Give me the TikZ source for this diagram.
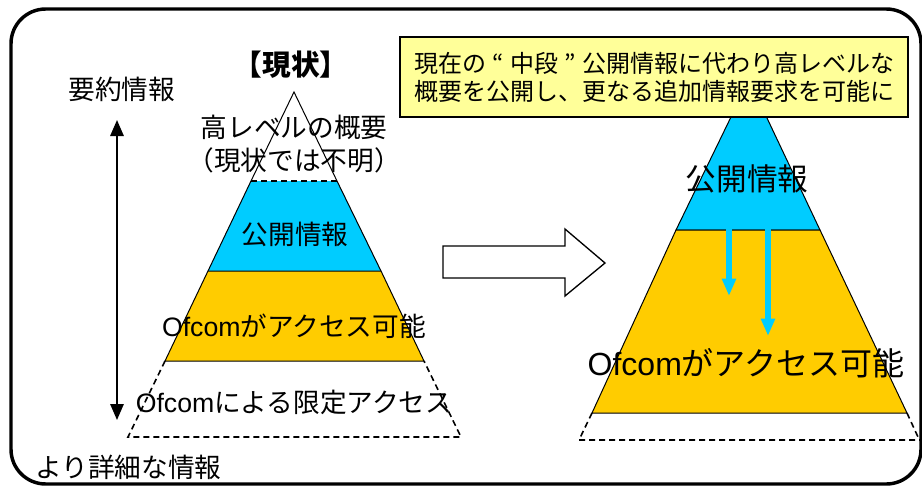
\documentclass[tikz,border=0pt]{standalone}
\usepackage{fontspec}
\setmainfont{Noto Sans CJK JP}
\newfontfamily\arialf{Liberation Sans}
\usetikzlibrary{arrows.meta}
\definecolor{cyanband}{HTML}{00CCFF}
\definecolor{goldband}{HTML}{FFCC00}
\definecolor{notefill}{HTML}{FFFF99}
\newcommand{\fwq}[1]{\makebox[1em]{#1}}
\newcommand{\ofc}{{\arialf Ofcom}}
\tikzset{
  pyr/.style={draw=black, line width=0.75pt, line join=miter},
  dsh/.style={draw=black, line width=1.2pt, dash pattern=on 4.5pt off 3pt},
  lbl/.style={inner sep=0pt, font=\fontsize{20pt}{23pt}\selectfont},
  big/.style={inner sep=0pt, font=\fontsize{24pt}{26pt}\selectfont},
  bluearrow/.style={draw=cyanband, line width=3.8pt, -{Triangle[length=13pt, width=10pt]}},
}
\begin{document}
\begin{tikzpicture}[x=0.75pt, y=-0.75pt]
\useasboundingbox (0,0) rectangle (922,486);
% outer frame
\draw[line width=2.6pt, rounded corners=26pt] (11,9) rectangle (921,484);

% ---------- left pyramid ----------
\coordinate (LA) at (294,92);
\coordinate (L1l) at (251,181); \coordinate (L1r) at (337,181);
\coordinate (L2l) at (208,271); \coordinate (L2r) at (381,271);
\coordinate (L3l) at (165,361); \coordinate (L3r) at (424,361);
\coordinate (L4l) at (128,437); \coordinate (L4r) at (461,437);
\draw[pyr] (L1l) -- (LA) -- (L1r);
\fill[cyanband] (L1l) -- (L1r) -- (L2r) -- (L2l) -- cycle;
\draw[pyr] (L1l) -- (L2l) (L1r) -- (L2r);
\draw[dsh, line width=0.9pt] (L1l) -- (L1r);
\filldraw[pyr, fill=goldband] (L2l) -- (L2r) -- (L3r) -- (L3l) -- cycle;
\draw[dsh] (L3l) -- (L4l) -- (L4r) -- (L3r);

\node[inner sep=0pt, font=\fontsize{21.5pt}{24pt}\selectfont\bfseries] (cur) at (291,65) {【現状】};
\node[lbl] (summ) at (122,89) {要約情報};
\node[lbl] (high) at (294,127) {高レベルの概要};
\node[lbl] (unk) at (294,160) {（現状では不明）};
\node[lbl] (pubL) at (295,234) {公開情報};
\node[lbl] (accL) at (294,326) {\ofc がアクセス可能};
\node[lbl] (limL) at (294,402) {\ofc による限定アクセス};
\node[lbl, anchor=west] (detail) at (35,467) {より詳細な情報};
\coordinate (vtop) at (117,120);
\coordinate (vbot) at (117,420);
\draw[line width=1.5pt, {Triangle[length=12pt, width=10pt]}-{Triangle[length=12pt, width=10pt]}] (vtop) -- (vbot);

% ---------- block arrow ----------
\draw[line width=1pt, fill=white, line join=miter]
  (443,246) -- (565,246) -- (565,229) -- (605,263) -- (565,296) -- (565,278) -- (443,278) -- cycle;

% ---------- right pyramid ----------
\coordinate (RA) at (749,80);
\coordinate (R1l) at (676,230); \coordinate (R1r) at (820,230);
\coordinate (R2l) at (592,413); \coordinate (R2r) at (907,413);
\coordinate (R3l) at (579,440); \coordinate (R3r) at (921,440);
\filldraw[pyr, fill=cyanband] (RA) -- (R1r) -- (R1l) -- cycle;
\filldraw[pyr, fill=goldband] (R1l) -- (R1r) -- (R2r) -- (R2l) -- cycle;
\draw[dsh] (R2l) -- (R3l) -- (R3r);
\draw[dsh] (R2r) -- (918,437);
\coordinate (a1s) at (729,228); \coordinate (a1e) at (729,296);
\coordinate (a2s) at (768,228); \coordinate (a2e) at (768,336);
\draw[bluearrow] (a1s) -- (a1e);
\draw[bluearrow] (a2s) -- (a2e);
\node[inner sep=0pt, font=\fontsize{23pt}{25pt}\selectfont] (pubR) at (747,179) {公開情報};
\node[big] (accR) at (746,363) {\ofc がアクセス可能};

% ---------- note ----------
\node[draw=black, line width=1.2pt, fill=notefill, minimum width=508*0.75pt, minimum height=80*0.75pt, inner sep=0pt, align=center,
  font=\fontsize{18pt}{21pt}\selectfont] (note) at (654,77)
  {現在の\fwq{“}中段\fwq{”}公開情報に代わり高レベルな\\概要を公開し、更なる追加情報要求を可能に};
\end{tikzpicture}
\end{document}
